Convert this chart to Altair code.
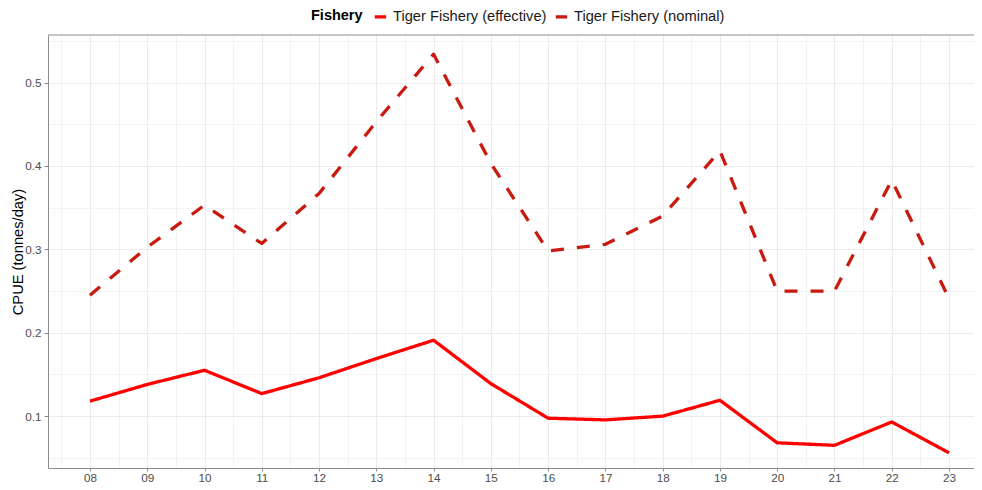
import altair as alt
import pandas as pd

years = list(range(8, 24))
effective = [0.118, 0.138, 0.155, 0.127, 0.146, 0.169, 0.191, 0.139,
             0.0975, 0.0955, 0.100, 0.119, 0.068, 0.065, 0.093, 0.056]
nominal = [0.245, 0.3025, 0.353, 0.307, 0.367, 0.453, 0.534, 0.403,
           0.298, 0.306, 0.340, 0.418, 0.250, 0.250, 0.383, 0.241]
fisheries = ["Tiger Fishery (effective)", "Tiger Fishery (nominal)"]
colors = ["#FF0000", "#C81A0F"]
dashes = [[1, 0], [13, 13]]
major_y = [0.1, 0.2, 0.3, 0.4, 0.5]
minor_y = [0.05, 0.15, 0.25, 0.35, 0.45, 0.55]
minor_x = [y + 0.5 for y in range(7, 23)]

rows = []
for name, vals in zip(fisheries, [effective, nominal]):
    for yr, v in zip(years, vals):
        rows.append({"year": yr, "cpue": v, "fishery": name})
df = pd.DataFrame(rows)

FONT = "Liberation Sans"
W, H = 926, 433
xs = alt.Scale(domain=[7.2667, 23.4365], nice=False, zero=False)
ys = alt.Scale(domain=[0.0378, 0.557], nice=False, zero=False)

minor = alt.Chart(df).mark_line(opacity=0).encode(
    x=alt.X("year:Q", scale=xs, axis=alt.Axis(
        orient="bottom", values=minor_x, grid=True, gridColor="#EBEBEB",
        gridWidth=0.6, labels=False, ticks=False, domain=False, title=None)),
    y=alt.Y("cpue:Q", scale=ys, axis=alt.Axis(
        orient="left", values=minor_y, grid=True, gridColor="#EBEBEB",
        gridWidth=0.6, labels=False, ticks=False, domain=False, title=None)),
    detail="fishery:N",
)

main = alt.Chart(df).mark_line(strokeWidth=3.3, strokeJoin="round").encode(
    x=alt.X("year:Q", scale=xs, axis=alt.Axis(
        orient="bottom", values=years, format="02d", grid=True,
        gridColor="#EBEBEB", gridWidth=1.1, labelFont=FONT,
        labelFontSize=11.7, labelColor="#4D4D4D", tickColor="#8C8C8C",
        tickSize=3, domainColor="#8C8C8C", labelPadding=1, title=None)),
    y=alt.Y("cpue:Q", scale=ys, axis=alt.Axis(
        orient="left", values=major_y, format=".1f", grid=True,
        gridColor="#EBEBEB", gridWidth=1.1, labelFont=FONT,
        labelFontSize=11.7, labelColor="#4D4D4D", tickColor="#8C8C8C",
        tickSize=4, domainColor="#8C8C8C", labelPadding=3,
        title="CPUE (tonnes/day)", titleFont=FONT, titleFontSize=14.7,
        titleFontWeight="normal", titleColor="#000000",
        titleX=-30, titleBaseline="middle")),
    color=alt.Color("fishery:N", scale=alt.Scale(domain=fisheries, range=colors),
                    legend=alt.Legend(
                        title="Fishery", orient="none", direction="horizontal",
                        legendX=263, legendY=-26, titleOrient="left",
                        titleFont=FONT, titleFontSize=14.5, titleFontWeight="bold",
                        titleColor="#000000", titlePadding=10,
                        labelFont=FONT, labelFontSize=14.7, labelColor="#1A1A1A",
                        symbolType="stroke", symbolStrokeWidth=3.3,
                        symbolSize=130, labelOffset=5, columnPadding=2)),
    strokeDash=alt.StrokeDash("fishery:N",
                              scale=alt.Scale(domain=fisheries, range=dashes),
                              legend=None),
)

border = alt.Chart(pd.DataFrame({"a": [0]})).mark_rule(
    color="#8C8C8C", strokeWidth=1).encode(
    x=alt.value(0), x2=alt.value(W), y=alt.value(0))

chart = alt.layer(minor, main, border).resolve_axis(
    x="independent", y="independent"
).properties(
    width=W, height=H,
    autosize=alt.AutoSizeParams(type="none"),
    padding={"left": 40, "top": 27, "right": 0, "bottom": 14},
).configure_view(stroke=None)

chart.save("out.html", embed_options={"renderer": "svg", "actions": False})
